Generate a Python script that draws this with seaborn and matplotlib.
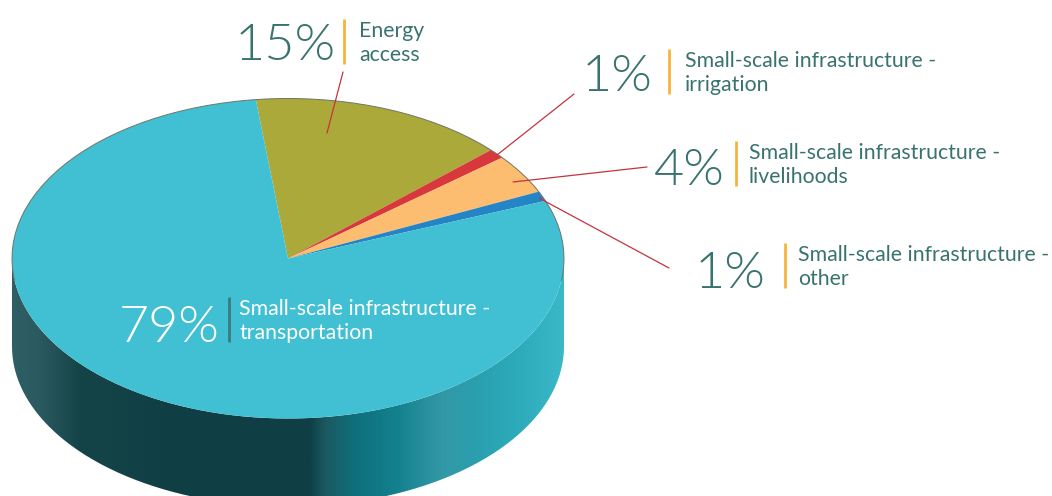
import numpy as np
import matplotlib
matplotlib.use("Agg")
import matplotlib.pyplot as plt
from matplotlib import font_manager as fm
from matplotlib.colors import LinearSegmentedColormap
from matplotlib.patches import Arc, PathPatch
from matplotlib.path import Path
import seaborn as sns

# Share of funding by category
categories = [
    "Energy\naccess",
    "Small-scale infrastructure -\nirrigation",
    "Small-scale infrastructure -\nlivelihoods",
    "Small-scale infrastructure -\nother",
    "Small-scale infrastructure -\ntransportation",
]
values = [15, 1, 4, 1, 79]
value_labels = ["15%", "1%", "4%", "1%", "79%"]
slice_colors = ["#aaa93a", "#d8383c", "#fdbd70", "#2484c6", "#41c0d3"]

W, H = 1052, 496
CX, CY, RX, RY, DEPTH = 288, 258.5, 276, 160, 88

sns.set_theme(style="white")
plt.rcParams["font.family"] = ["Lato", "DejaVu Sans"]

# Large percentages use the light cut of Lato, located by file name
light_files = [f.fname for f in fm.fontManager.ttflist
               if f.fname.endswith("Lato-Light.ttf")]
if light_files:
    big_font = fm.FontProperties(fname=light_files[0], size=37.5)
else:
    big_font = fm.FontProperties(family="Roboto", weight="light", size=37.5)

fig = plt.figure(figsize=(W / 100, H / 100), dpi=100, facecolor="white")

# Pie axes: one data unit is RX pixels wide and RY pixels tall, which flattens the disc
ax = fig.add_axes([0, 0, 1, 1], zorder=2)
ax.patch.set_alpha(0)

# Cylinder wall, shaded from left to right and clipped to the disc's lower rim
wall_cmap = LinearSegmentedColormap.from_list("wall", [
    (0.00, "#2f5f65"), (0.05, "#2a5a60"), (0.12, "#154448"), (0.30, "#0f3f45"),
    (0.54, "#0f3f46"), (0.57, "#1b5a62"), (0.62, "#0f6f7b"), (0.70, "#14818f"),
    (0.78, "#3398a6"), (0.84, "#2a9fae"), (0.92, "#2dabbb"), (1.00, "#3ab8c8"),
])
xlim = (-CX / RX, (W - CX) / RX)
ylim = ((CY - H) / RY, CY / RY)
drop = DEPTH / RY
t = np.linspace(np.pi, 2 * np.pi, 240)
rim_x = np.r_[np.cos(t), np.cos(t[::-1])]
rim_y = np.r_[np.sin(t) - drop, np.sin(t[::-1])]
wall_path = Path(np.c_[rim_x, rim_y])
grad = ax.imshow(np.linspace(0, 1, 512)[None, :], cmap=wall_cmap, aspect="auto",
                 extent=(-1, 1, -1 - drop, 0.05), zorder=1)
grad.set_clip_path(PathPatch(wall_path, transform=ax.transData))

# Top face of the pie
wedges, _ = ax.pie(values, colors=sns.color_palette(slice_colors), startangle=96.7,
                   counterclock=False, radius=1, center=(0, 0),
                   wedgeprops=dict(linewidth=0, zorder=2))
ax.set_aspect("auto")
ax.set_xlim(*xlim)
ax.set_ylim(*ylim)
# Thin outline along the far rim only
ax.add_patch(Arc((0, 0), 2, 2, theta1=-8, theta2=188, edgecolor="#6f7568",
                 linewidth=0.7, zorder=3))
ax.axis("off")

# Annotation layer in pixel coordinates
ov = fig.add_axes([0, 0, 1, 1], zorder=3)
ov.set_xlim(0, W)
ov.set_ylim(H, 0)
ov.axis("off")

TEAL = "#39736f"
AMBER = "#f8b33c"
LEADER = "#c4343e"

# (right edge of number, number baseline, divider x, text x, first text line y)
layout = [
    (336, 60, 343.5, 359, 31),
    (653, 91, 669, 685, 61),
    (725, 185, 736, 749, 153),
    (766, 288, 785, 798, 255),
    (220, 342, 228.5, 239, 309),
]
leaders = [
    ((343, 72), (327, 133)),
    ((574, 94), (497, 155)),
    ((647, 167), (513, 182)),
    ((669, 268), (539, 198)),
]

for i, (cat, lab, (nx, ny, bx, tx, ty)) in enumerate(zip(categories, value_labels, layout)):
    inside = i == 4
    col = "white" if inside else TEAL
    ov.text(nx, ny, lab, ha="right", va="baseline", color=col, fontproperties=big_font)
    ov.plot([bx, bx], [ty - 12, ty + 33], color="#3c7a7c" if inside else AMBER,
            lw=2, solid_capstyle="butt")
    first, second = cat.split("\n")
    ov.text(tx, ty, first, ha="left", va="center", fontsize=15.3, color=col)
    ov.text(tx, ty + 24, second, ha="left", va="center", fontsize=15.3, color=col)

for (x0, y0), (x1, y1) in leaders:
    ov.plot([x0, x1], [y0, y1], color=LEADER, lw=0.9)

fig.savefig("out.png", dpi=100, facecolor="white")
